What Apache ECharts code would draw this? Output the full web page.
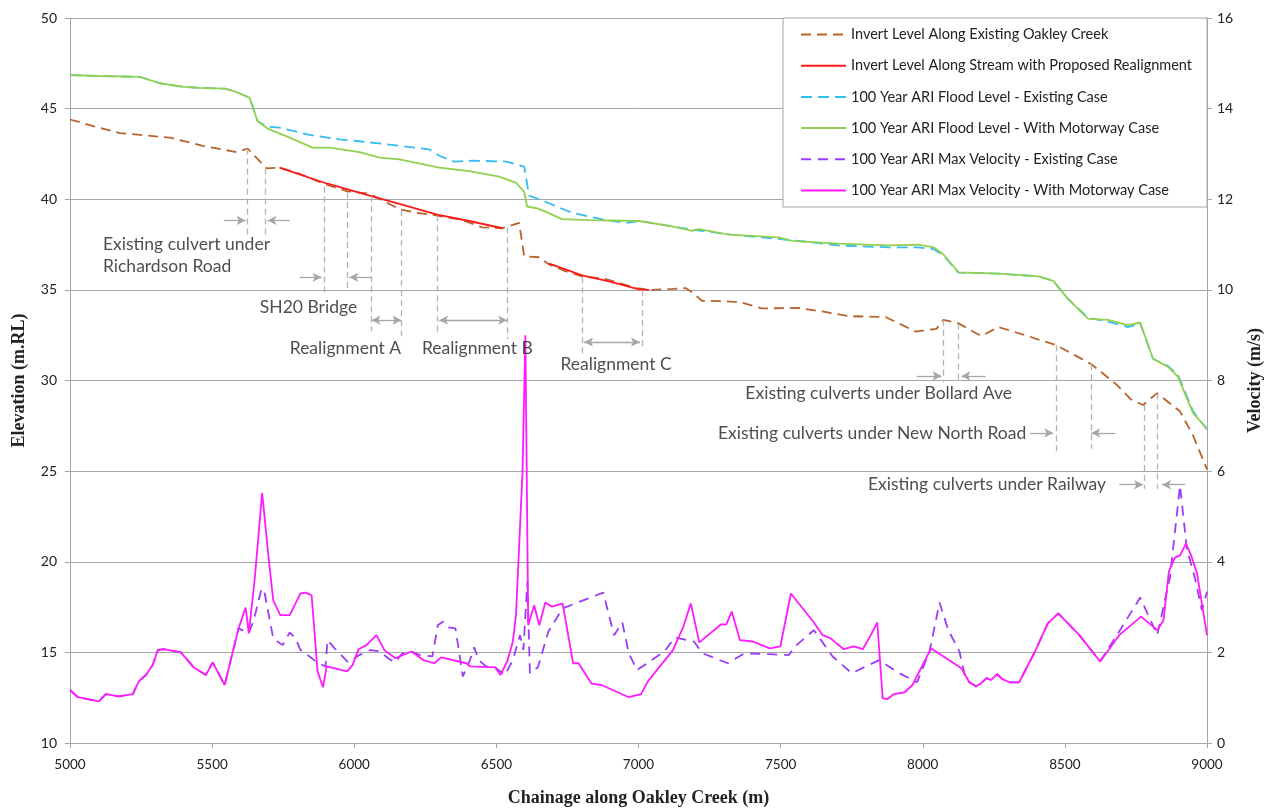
<!DOCTYPE html>
<html><head><meta charset="utf-8">
<script src="https://cdn.jsdelivr.net/npm/echarts@6/dist/echarts.min.js"></script>
<style>html,body{margin:0;padding:0;background:#fff}#c{width:1272px;height:812px}</style>
</head><body><div id="c"></div>
<script>
// ---- data (chainage m, elevation m.RL / velocity m/s) ----
const invertExisting = [[5000,44.4],[5090,44.0],[5176,43.65],[5246,43.55],[5351,43.4],[5467,42.95],[5586,42.6],[5625,42.8],[5667,42.1],[5692,41.7],[5737,41.75],[5800,41.45],[5903,40.8],[5973,40.45],[6054,40.3],[6110,39.85],[6159,39.45],[6220,39.25],[6292,39.1],[6380,38.85],[6450,38.45],[6521,38.4],[6580,38.7],[6598,36.85],[6650,36.8],[6686,36.4],[6740,36.05],[6802,35.75],[6885,35.6],[6940,35.35],[6991,35.1],[7047,35.0],[7120,35.05],[7166,35.1],[7190,34.85],[7223,34.4],[7307,34.37],[7364,34.3],[7434,33.98],[7564,34.0],[7650,33.8],[7739,33.55],[7869,33.5],[7975,32.7],[8048,32.85],[8073,33.35],[8126,33.15],[8206,32.45],[8266,32.95],[8360,32.5],[8470,31.95],[8593,30.9],[8680,29.8],[8733,28.95],[8775,28.65],[8824,29.3],[8905,28.3],[8950,27.0],[9000,25.1]];
const invertProposed = [[5737,41.75],[5903,40.87],[6054,40.2],[6159,39.75],[6292,39.15],[6405,38.8],[6521,38.4],[6600,'-'],[6686,36.45],[6802,35.8],[6896,35.47],[7002,35.03],[7037,35.0]];
const floodExisting = [[5000,46.85],[5100,46.8],[5246,46.75],[5316,46.4],[5400,46.2],[5456,46.15],[5544,46.1],[5580,45.95],[5632,45.6],[5660,44.3],[5695,44.0],[5737,43.95],[5843,43.55],[5948,43.3],[6018,43.2],[6159,42.95],[6264,42.75],[6299,42.4],[6352,42.08],[6415,42.13],[6535,42.08],[6598,41.8],[6605,41.8],[6615,40.2],[6650,40.0],[6767,39.25],[6885,38.85],[6956,38.7],[7002,38.8],[7177,38.35],[7328,38.05],[7564,37.7],[7704,37.45],[7880,37.35],[7985,37.35],[8038,37.25],[8073,36.9],[8126,35.95],[8266,35.9],[8406,35.75],[8459,35.5],[8511,34.5],[8582,33.45],[8652,33.25],[8722,32.95],[8765,33.15],[8810,31.2],[8863,30.8],[8898,30.3],[8951,28.3],[9000,27.3]];
const floodMotorway = [[5000,46.85],[5100,46.8],[5246,46.75],[5316,46.4],[5400,46.2],[5456,46.15],[5544,46.1],[5580,45.95],[5632,45.6],[5660,44.3],[5695,43.9],[5773,43.4],[5853,42.85],[5913,42.85],[6018,42.6],[6089,42.3],[6159,42.2],[6299,41.75],[6405,41.55],[6510,41.25],[6570,40.9],[6598,40.4],[6608,39.6],[6644,39.5],[6675,39.3],[6731,38.9],[6826,38.85],[7002,38.8],[7118,38.5],[7188,38.25],[7212,38.35],[7318,38.05],[7493,37.9],[7539,37.7],[7704,37.55],[7880,37.45],[7985,37.5],[8038,37.35],[8073,36.95],[8126,35.97],[8266,35.9],[8406,35.75],[8459,35.5],[8511,34.5],[8582,33.4],[8652,33.35],[8722,33.05],[8765,33.2],[8810,31.2],[8863,30.75],[8898,30.2],[8951,28.2],[9000,27.35]];
const velocityExisting = [[5000,1.17],[5028,1.01],[5102,0.92],[5126,1.08],[5172,1.03],[5221,1.08],[5242,1.36],[5267,1.5],[5291,1.72],[5309,2.05],[5330,2.07],[5390,2.0],[5435,1.67],[5478,1.5],[5502,1.78],[5544,1.28],[5593,2.53],[5629,2.42],[5648,2.75],[5674,3.41],[5685,3.3],[5715,2.31],[5730,2.24],[5748,2.16],[5773,2.44],[5793,2.31],[5811,2.05],[5843,1.91],[5868,1.78],[5899,1.69],[5906,2.27],[5931,2.09],[5978,1.78],[6018,1.94],[6056,2.05],[6092,2.02],[6119,1.87],[6144,1.78],[6169,1.98],[6200,2.02],[6232,1.94],[6275,1.91],[6294,2.6],[6313,2.68],[6331,2.55],[6356,2.53],[6382,1.47],[6407,1.83],[6422,2.11],[6438,1.83],[6464,1.69],[6495,1.67],[6530,1.5],[6558,1.83],[6583,2.38],[6595,2.05],[6609,3.56],[6618,1.54],[6646,1.67],[6683,2.46],[6733,2.97],[6876,3.32],[6914,2.38],[6943,2.66],[6966,1.98],[6995,1.61],[7091,2.02],[7128,2.33],[7195,2.24],[7225,1.98],[7314,1.76],[7373,1.98],[7462,1.96],[7529,1.94],[7550,2.13],[7617,2.49],[7683,1.91],[7750,1.54],[7847,1.83],[7906,1.58],[7980,1.34],[8024,2.02],[8059,3.1],[8090,2.49],[8129,2.02],[8150,1.43],[8164,1.34],[8187,1.25],[8206,1.32],[8224,1.43],[8240,1.39],[8262,1.52],[8280,1.41],[8306,1.34],[8339,1.34],[8395,2.02],[8440,2.64],[8477,2.86],[8551,2.38],[8624,1.8],[8691,2.46],[8765,3.21],[8825,2.38],[8870,3.67],[8905,5.68],[8929,4.29],[8958,3.63],[8982,2.93],[9000,3.34]];
const velocityMotorway = [[5000,1.17],[5028,1.01],[5102,0.92],[5126,1.08],[5172,1.03],[5221,1.08],[5242,1.36],[5267,1.5],[5291,1.72],[5309,2.05],[5330,2.07],[5390,2.0],[5435,1.67],[5478,1.5],[5502,1.78],[5544,1.28],[5593,2.53],[5618,2.99],[5629,2.42],[5650,3.63],[5676,5.52],[5699,4.07],[5715,3.15],[5740,2.82],[5773,2.82],[5811,3.3],[5829,3.32],[5850,3.26],[5871,1.58],[5890,1.23],[5903,1.69],[5975,1.58],[5994,1.72],[6015,2.07],[6043,2.16],[6078,2.38],[6106,2.05],[6145,1.87],[6201,2.02],[6243,1.83],[6282,1.76],[6306,1.89],[6394,1.76],[6408,1.69],[6496,1.67],[6514,1.5],[6538,1.8],[6558,2.24],[6569,2.82],[6592,5.98],[6602,9.0],[6612,2.6],[6633,3.04],[6651,2.6],[6672,3.1],[6696,3.01],[6733,3.08],[6770,1.76],[6789,1.76],[6835,1.31],[6870,1.28],[6966,1.01],[7009,1.08],[7033,1.36],[7121,2.05],[7158,2.57],[7184,3.08],[7214,2.22],[7291,2.62],[7309,2.62],[7328,2.9],[7357,2.27],[7402,2.24],[7462,2.09],[7499,2.13],[7536,3.3],[7617,2.66],[7648,2.38],[7676,2.31],[7722,2.07],[7757,2.13],[7789,2.07],[7817,2.38],[7840,2.66],[7859,0.99],[7876,0.97],[7899,1.08],[7936,1.12],[7964,1.28],[8029,2.09],[8136,1.65],[8164,1.34],[8187,1.25],[8206,1.32],[8224,1.43],[8240,1.39],[8262,1.52],[8280,1.41],[8306,1.34],[8339,1.34],[8395,2.02],[8440,2.64],[8477,2.86],[8551,2.38],[8624,1.8],[8691,2.38],[8768,2.79],[8825,2.49],[8847,2.71],[8866,3.79],[8887,4.09],[8905,4.14],[8926,4.4],[8944,4.14],[8965,3.74],[9000,2.38]];

const seriesNames = ['Invert Level Along Existing Oakley Creek','Invert Level Along Stream with Proposed Realignment','100 Year ARI Flood Level - Existing Case','100 Year ARI Flood Level - With Motorway Case','100 Year ARI Max Velocity - Existing Case','100 Year ARI Max Velocity - With Motorway Case'];

// annotations (chainage, elevation)
const guideLines = [[5625,42.8,38.06],[5688,41.7,38.06],[5896,40.7,34.87],[5977,40.4,35.03],[6061,40.17,32.72],[6166,39.4,32.39],[6292,39.1,32.56],[6538,38.45,32.28],[6802,35.7,31.46],[7012,35.0,31.84],[8073,33.35,29.92],[8126,33.15,29.92],[8470,31.95,26.07],[8593,30.9,26.23],[8779,28.65,24.03],[8825,29.28,24.03]];
const singleArrows = [[5541,5618,38.83],[5773,5695,38.83],[5808,5885,35.69],[6061,5983,35.69],[7978,8066,30.25],[8221,8136,30.25],[8378,8459,27.11],[8677,8593,27.11],[8691,8775,24.25],[8923,8842,24.25]];
const doubleArrows = [[6061,6166,33.33],[6299,6538,33.33],[6809,7005,32.12]];
const notes = [[5116,36.9,'Existing culvert under\nRichardson Road','left'],[5839,34.04,'SH20 Bridge','center'],[5969,31.79,'Realignment A','center'],[6433,31.79,'Realignment B','center'],[6921,30.9,'Realignment C','center'],[7845,29.31,'Existing culverts under Bollard Ave','center'],[8364,27.06,'Existing culverts under New North Road','right'],[8645,24.25,'Existing culverts under Railway','right']];

const SANS = 'Lato, "Noto Sans", sans-serif';
const SERIF = '"Liberation Serif", "DejaVu Serif", serif';
const GRID = '#a6a6a6';

function lineSeries(i, data, color, dash, width, yIdx) {
  return { name: seriesNames[i], type: 'line', data: data, yAxisIndex: yIdx,
    symbol: 'none',
    lineStyle: { color: color, width: width, type: dash || 'solid' }, itemStyle: { color: color },
    connectNulls: false, silent: true, z: 2 + i * 0.01 };
}

const chart = echarts.init(document.getElementById('c'), null, { renderer: 'canvas' });
chart.setOption({
  animation: false,
  backgroundColor: '#fff',
  grid: { left: 70, right: 63, top: 18, bottom: 67 },
  legend: {
    data: seriesNames, orient: 'vertical', left: 783, top: 18,
    itemWidth: 45, itemHeight: 14, itemGap: 16.2,
    padding: [9, 15, 9, 17],
    backgroundColor: '#fff', borderColor: '#a6a6a6', borderWidth: 1,
    itemStyle: { opacity: 0 },
    textStyle: { fontFamily: SANS, fontSize: 14.5, color: '#222' },
    selectedMode: false
  },
  xAxis: {
    type: 'value', min: 5000, max: 9000, interval: 500,
    name: 'Chainage along Oakley Creek (m)', nameLocation: 'middle', nameGap: 46,
    nameTextStyle: { fontFamily: SERIF, fontWeight: 'bold', fontSize: 18, color: '#222' },
    axisLine: { lineStyle: { color: GRID } },
    axisTick: { show: true, length: 5, lineStyle: { color: GRID } },
    axisLabel: { fontFamily: SANS, fontSize: 13.5, color: '#222', margin: 15, formatter: v => String(v) },
    splitLine: { show: false }
  },
  yAxis: [{
    type: 'value', min: 10, max: 50, interval: 5,
    name: 'Elevation (m.RL)', nameLocation: 'middle', nameGap: 42,
    nameTextStyle: { fontFamily: SERIF, fontWeight: 'bold', fontSize: 18, color: '#222' },
    axisLine: { show: true, lineStyle: { color: GRID } },
    axisTick: { show: true, length: 5, lineStyle: { color: GRID } },
    axisLabel: { fontFamily: SANS, fontSize: 14, color: '#222', margin: 13 },
    splitLine: { show: true, lineStyle: { color: GRID, width: 1 } }
  }, {
    type: 'value', min: 0, max: 16, interval: 2, position: 'right',
    name: 'Velocity (m/s)', nameLocation: 'middle', nameGap: 39, nameRotate: 90,
    nameTextStyle: { fontFamily: SERIF, fontWeight: 'bold', fontSize: 18, color: '#222' },
    axisLine: { show: true, lineStyle: { color: GRID } },
    axisTick: { show: true, length: 5, lineStyle: { color: GRID } },
    axisLabel: { fontFamily: SANS, fontSize: 14, color: '#222', margin: 10 },
    splitLine: { show: false }
  }],
  series: [
    lineSeries(0, invertExisting, '#b8632b', [10, 6], 1.8, 0),
    lineSeries(1, invertProposed, '#ff1a1a', 'solid', 1.8, 0),
    lineSeries(2, floodExisting, '#33bdf2', [11, 6], 1.8, 0),
    lineSeries(3, floodMotorway, '#92d050', 'solid', 1.8, 0),
    lineSeries(4, velocityExisting, '#9b3cf5', [10, 7], 1.8, 1),
    lineSeries(5, velocityMotorway, '#ff1aff', 'solid', 1.8, 1),
    { type: 'line', data: [], yAxisIndex: 0, silent: true, z: 3,
      markLine: { silent: true, symbol: ['none', 'none'], label: { show: false }, animation: false,
        lineStyle: { color: '#b3b3b3', width: 1.3, type: [6, 4] }, emphasis: { disabled: true },
        data: guideLines.map(g => [{ coord: [g[0], g[1]] }, { coord: [g[0], g[2]] }]) } },
    { type: 'line', data: [], yAxisIndex: 0, silent: true, z: 3,
      markLine: { silent: true, symbol: ['none', 'arrow'], symbolSize: [7, 9], label: { show: false }, animation: false,
        lineStyle: { color: '#a6a6a6', width: 1.3, type: 'solid' }, emphasis: { disabled: true },
        data: singleArrows.map(a => [{ coord: [a[0], a[2]] }, { coord: [a[1], a[2]] }]) } },
    { type: 'line', data: [], yAxisIndex: 0, silent: true, z: 3,
      markLine: { silent: true, symbol: ['arrow', 'arrow'], symbolSize: [7, 9], label: { show: false }, animation: false,
        lineStyle: { color: '#a6a6a6', width: 1.3, type: 'solid' }, emphasis: { disabled: true },
        data: doubleArrows.map(a => [{ coord: [a[0], a[2]] }, { coord: [a[1], a[2]] }]) } },
    { type: 'scatter', yAxisIndex: 0, symbolSize: 0, silent: true, z: 5,
      data: notes.map(n => ({ value: [n[0], n[1]], label: { align: n[3] } })),
      label: { show: true, position: 'inside', formatter: p => notes[p.dataIndex][2],
        fontFamily: SANS, fontSize: 17.5, color: '#222', lineHeight: 22 } }
  ]
});
</script></body></html>
